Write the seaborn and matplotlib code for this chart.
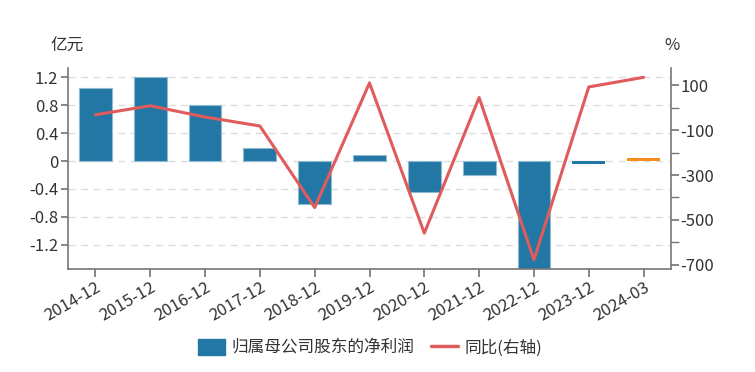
import matplotlib
matplotlib.use("Agg")
import matplotlib.pyplot as plt
import numpy as np
import pandas as pd
import seaborn as sns
from matplotlib.patches import Patch
from matplotlib.lines import Line2D
from matplotlib.ticker import MultipleLocator

# ----------------------------------------------
# Data
# ----------------------------------------------
periods = ["2014-12", "2015-12", "2016-12", "2017-12", "2018-12", "2019-12",
           "2020-12", "2021-12", "2022-12", "2023-12", "2024-03"]
net_profit = [1.05, 1.20, 0.80, 0.18, -0.62, 0.09, -0.44, -0.20, -1.60, -0.05, 0.05]
yoy_pct = [-31, 9, -41, -81, -445, 111, -559, 46, -678, 93, 136]
bar_kind = ["annual"] * 10 + ["quarter"]

BAR_LABEL = "归属母公司股东的净利润"
LINE_LABEL = "同比(右轴)"
BLUE = "#2277a4"
ORANGE = "#f78d1c"
RED = "#e05c5c"
GREY = "#777777"
TXT = "#333333"

sns.set_theme(style="white")
plt.rcParams["font.family"] = ["Noto Sans CJK SC", "DejaVu Sans"]
plt.rcParams["axes.unicode_minus"] = False

df = pd.DataFrame({"period": periods, "profit": net_profit,
                   "yoy": yoy_pct, "kind": bar_kind})

fig = plt.figure(figsize=(7.55, 3.72), dpi=100)
ax = fig.add_axes([68 / 755, 1 - 269 / 372, (671 - 68) / 755, (269 - 68) / 372])

sns.barplot(data=df, x="period", y="profit", hue="kind",
            palette={"annual": BLUE, "quarter": ORANGE}, saturation=1,
            dodge=False, width=0.6, legend=False, ax=ax, zorder=2)
for p in ax.patches:
    if p.get_height() != 0 and abs(p.get_height()) > 0.06:
        p.set_edgecolor("#8fbad2")
        p.set_linewidth(0.8)
    else:
        p.set_linewidth(0)

ax.set_xlim(-0.5, len(periods) - 0.5)
ax.set_ylim(-1.55, 1.335)
ax.set_yticks([1.2, 0.8, 0.4, 0, -0.4, -0.8, -1.2])
ax.set_yticklabels(["1.2", "0.8", "0.4", "0", "-0.4", "-0.8", "-1.2"])
ax.yaxis.grid(True, linestyle=(0, (5, 4)), color="#dddddd", linewidth=1)
ax.set_axisbelow(True)
ax.set_xlabel("")
ax.set_ylabel("")

ax2 = ax.twinx()
sns.lineplot(x=np.arange(len(periods)), y=yoy_pct, color=RED, linewidth=2.2,
             ax=ax2, zorder=3)
ax2.set_ylim(-719, 177.6)
ax2.yaxis.set_major_locator(MultipleLocator(200, offset=100))
ax2.yaxis.set_minor_locator(MultipleLocator(100))
ax2.grid(False)

for a in (ax, ax2):
    a.spines["top"].set_visible(False)
    for s in ("left", "right", "bottom"):
        a.spines[s].set_color(GREY)
        a.spines[s].set_linewidth(1.2)
ax.spines["right"].set_visible(False)
ax2.spines["left"].set_visible(False)
ax2.spines["bottom"].set_visible(False)

ax.tick_params(axis="y", length=5, color=GREY, labelsize=12, labelcolor=TXT, pad=2)
ax.tick_params(axis="x", length=6, color=GREY, labelsize=12, labelcolor=TXT,
               bottom=True, pad=1)
ax2.tick_params(axis="y", which="both", length=6, color=GREY, labelsize=12,
                labelcolor=TXT, pad=1, right=True)
plt.setp(ax.get_xticklabels(), rotation=30, ha="right", rotation_mode="anchor")

fig.text(50 / 755, 1 - 46 / 372, "亿元", fontsize=12, color=TXT, va="center")
fig.text(664 / 755, 1 - 46 / 372, "%", fontsize=12, color=TXT, va="center")

handles = [Patch(facecolor=BLUE, edgecolor=BLUE, label=BAR_LABEL),
           Line2D([0], [0], color=RED, linewidth=2.5, label=LINE_LABEL)]
fig.legend(handles=handles, loc="center", bbox_to_anchor=(370 / 755, 1 - 348 / 372),
           ncol=2, frameon=False, fontsize=12, handlelength=1.6, handleheight=1.1,
           columnspacing=1.0, handletextpad=0.4, labelcolor=TXT)

fig.savefig("out.png", dpi=100)
